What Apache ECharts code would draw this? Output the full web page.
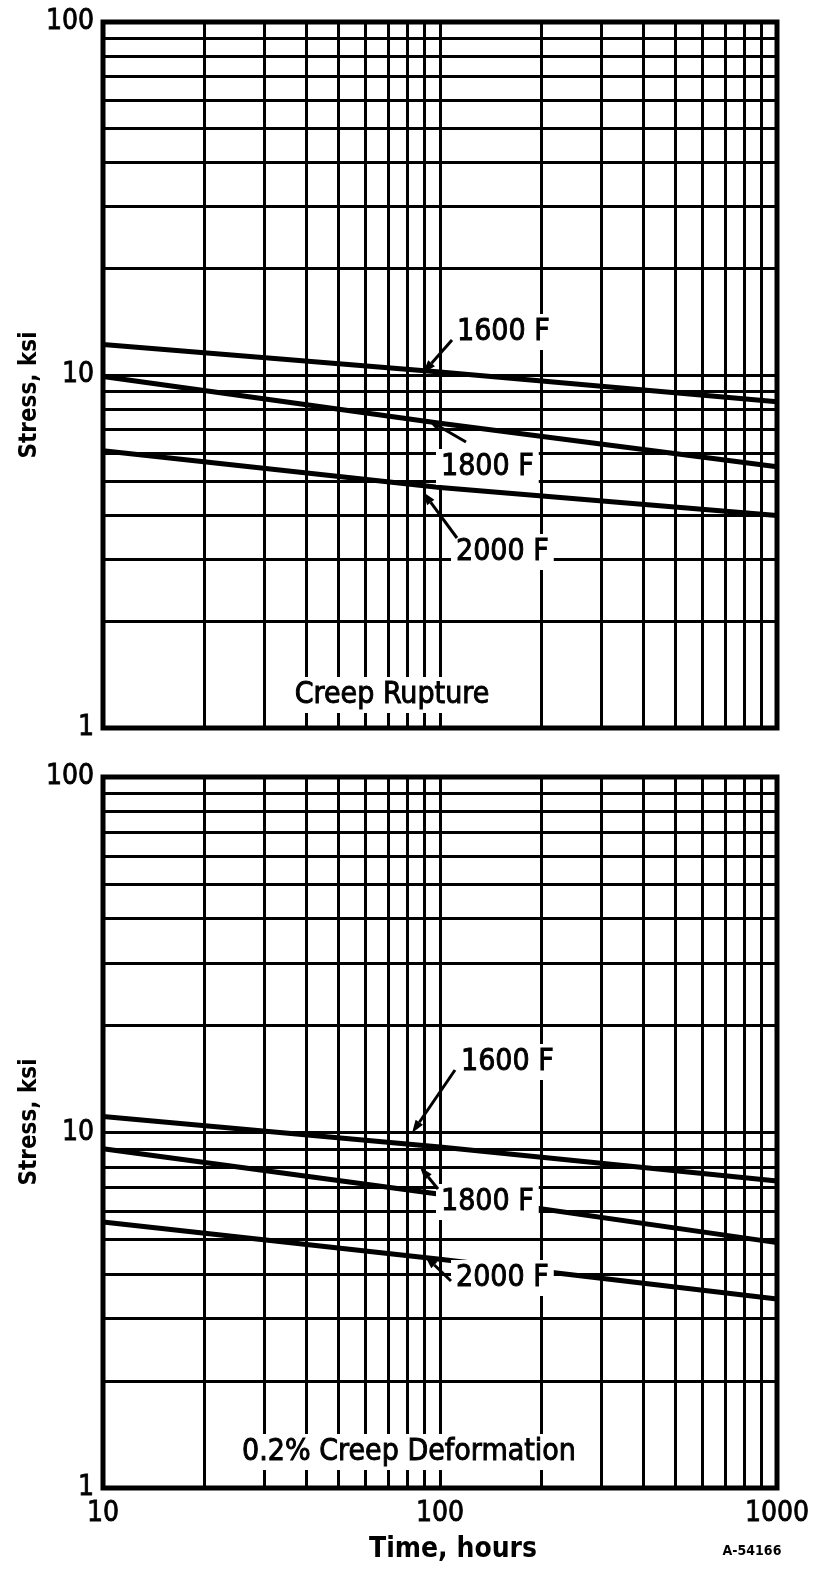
<!DOCTYPE html>
<html><head><meta charset="utf-8">
<script src="https://cdn.jsdelivr.net/npm/echarts@6/dist/echarts.min.js"></script>
<style>html,body{margin:0;padding:0;background:#fff}#c{width:816px;height:1573px}</style>
</head><body><div id="c"></div>
<script>
// ---- data ----
const hours = [10, 100, 1000];
const rupture1600 = [12.2, 10.2, 8.4];
const rupture1800 = [9.9, 7.3, 5.5];
const rupture2000 = [6.1, 4.8, 4.0];
const creep1600 = [11.1, 9.1, 7.3];
const creep1800 = [9.0, 6.7, 4.9];
const creep2000 = [5.6, 4.4, 3.4];
const xGridValues = [20,30,40,50,60,70,80,90,100,200,300,400,500,600,700,800,900];
const yGridValues = [2,3,4,5,6,7,8,9,10,20,30,40,50,60,70,80,90];
const seriesNames = ['1600 F', '1800 F', '2000 F'];
const panelTitles = ['Creep Rupture', '0.2% Creep Deformation'];

const FONT = "'DejaVu Sans Condensed','Liberation Sans Narrow','DejaVu Sans',sans-serif";
const chart = echarts.init(document.getElementById('c'), null, {renderer: 'canvas'});

const gridLineData = xGridValues.map(v => ({xAxis: v})).concat(yGridValues.map(v => ({yAxis: v})));

function mkSeries(vals, gi, withGrid) {
  const s = {
    type: 'line', xAxisIndex: gi, yAxisIndex: gi,
    data: hours.map((h, i) => [h, vals[i]]),
    symbol: 'none', silent: true,
    lineStyle: {color: '#000', width: 5}, z: 3
  };
  if (withGrid) {
    s.markLine = {
      silent: true, symbol: 'none', animation: false,
      label: {show: false},
      lineStyle: {color: '#000', width: 3, type: 'solid'},
      data: gridLineData
    };
  }
  return s;
}

function arrow(x1, y1, x2, y2) {
  const a = Math.atan2(y2 - y1, x2 - x1);
  const L = 13, W = 4.5;
  const bx = x2 - L * Math.cos(a), by = y2 - L * Math.sin(a);
  const px = -Math.sin(a) * W, py = Math.cos(a) * W;
  return [
    {type: 'line', z: 110, shape: {x1: x1, y1: y1, x2: bx, y2: by}, style: {stroke: '#000', lineWidth: 3}},
    {type: 'polygon', z: 110, shape: {points: [[x2, y2], [bx + px, by + py], [bx - px, by - py]]}, style: {fill: '#000'}}
  ];
}

function label(text, x, y, align, size) {
  return {
    type: 'text', z: 100, x: x, y: y,
    style: {
      text: text, font: 'normal ' + (size || 30) + 'px ' + FONT, fill: '#000',
      stroke: '#000', lineWidth: 0.9,
      align: align || 'left', verticalAlign: 'middle',
      backgroundColor: '#fff', padding: [3, 5]
    }
  };
}

const axisLabelStyle = {color: '#000', fontSize: 28, fontFamily: FONT, textBorderColor: '#000', textBorderWidth: 0.8};

const option = {
  backgroundColor: '#fff',
  animation: false,
  grid: [
    {left: 103, top: 22, width: 674, height: 706, show: true, borderColor: '#000', borderWidth: 5, backgroundColor: 'transparent', z: 5},
    {left: 103, top: 777, width: 674, height: 711, show: true, borderColor: '#000', borderWidth: 5, backgroundColor: 'transparent', z: 5}
  ],
  xAxis: [0, 1].map(gi => ({
    type: 'log', logBase: 10, min: 10, max: 1000, gridIndex: gi,
    splitLine: {show: false}, axisTick: {show: false}, axisLine: {show: false},
    axisLabel: Object.assign({show: gi === 1, margin: 12, formatter: v => String(v)}, axisLabelStyle)
  })),
  yAxis: [0, 1].map(gi => ({
    type: 'log', logBase: 10, min: 1, max: 100, gridIndex: gi,
    splitLine: {show: false}, axisTick: {show: false}, axisLine: {show: false},
    axisLabel: Object.assign({margin: 9, formatter: v => String(v)}, axisLabelStyle)
  })),
  series: [
    mkSeries(rupture1600, 0, true), mkSeries(rupture1800, 0, false), mkSeries(rupture2000, 0, false),
    mkSeries(creep1600, 1, true), mkSeries(creep1800, 1, false), mkSeries(creep2000, 1, false)
  ],
  graphic: [].concat(
    [
      label(seriesNames[0], 452, 332), label(seriesNames[1], 436, 467), label(seriesNames[2], 451, 552),
      label(panelTitles[0], 392, 695, 'center'),
      label(seriesNames[0], 456, 1062), label(seriesNames[1], 436, 1202), label(seriesNames[2], 451, 1278),
      label(panelTitles[1], 409, 1452, 'center'),
      {type: 'text', z: 100, x: 30, y: 395, rotation: Math.PI / 2,
        style: {text: 'Stress, ksi', font: 'bold 24px ' + FONT, fill: '#000', align: 'center', verticalAlign: 'middle'}},
      {type: 'text', z: 100, x: 30, y: 1122, rotation: Math.PI / 2,
        style: {text: 'Stress, ksi', font: 'bold 24px ' + FONT, fill: '#000', align: 'center', verticalAlign: 'middle'}},
      {type: 'text', z: 100, x: 453, y: 1550,
        style: {text: 'Time, hours', font: 'bold 28px ' + FONT, fill: '#000', align: 'center', verticalAlign: 'middle'}},
      {type: 'text', z: 100, x: 752, y: 1551,
        style: {text: 'A-54166', font: 'bold 14px ' + FONT, fill: '#000', align: 'center', verticalAlign: 'middle'}}
    ],
    arrow(452, 340, 423, 373),
    arrow(466, 442, 428, 420),
    arrow(457, 538, 423, 492),
    arrow(455, 1070, 412, 1133),
    arrow(438, 1189, 420, 1167),
    arrow(451, 1281, 425, 1256)
  )
};
chart.setOption(option);
</script></body></html>
